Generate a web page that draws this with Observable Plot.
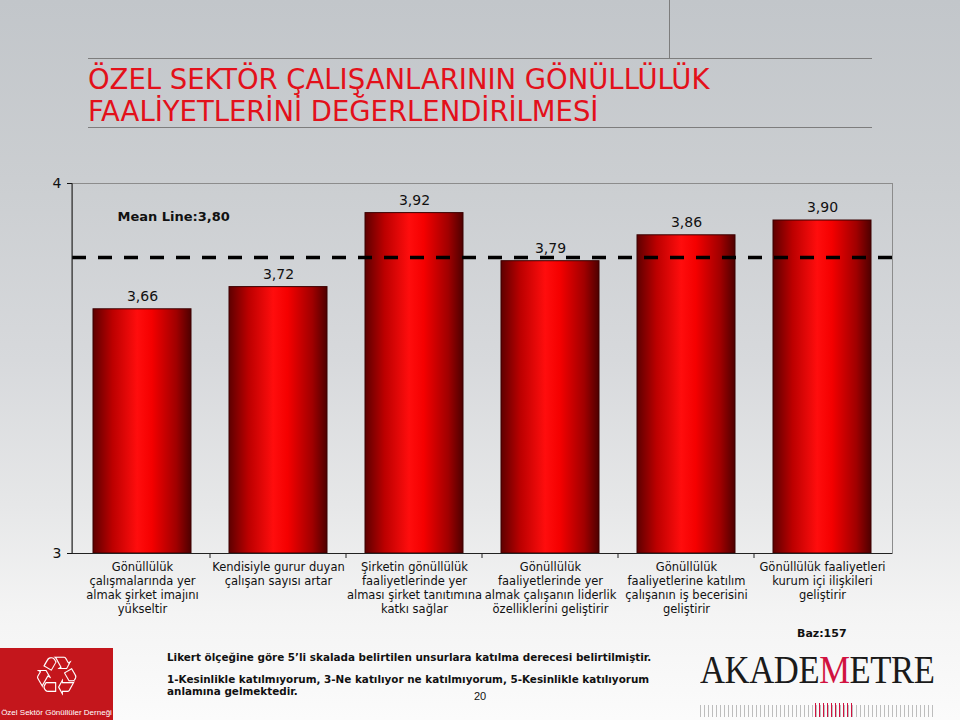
<!DOCTYPE html>
<html><head><meta charset="utf-8">
<script src="https://cdn.jsdelivr.net/npm/d3@7"></script>
<script src="https://cdn.jsdelivr.net/npm/@observablehq/plot@0.6"></script>
<style>
html,body{margin:0;padding:0;}
body{width:960px;height:720px;overflow:hidden;position:relative;font-family:"DejaVu Sans",Verdana,sans-serif;
background:linear-gradient(to bottom,#c2c6ca 0%,#cbced1 25%,#d7d9dc 50%,#e6e7e8 70%,#f4f4f4 85%,#fbfbfb 100%);}
.abs{position:absolute;}
#title{left:88px;top:64px;color:#e3101a;font-family:"DejaVu Sans Condensed","DejaVu Sans",sans-serif;font-size:28px;line-height:32px;white-space:nowrap;transform:scaleX(1.09);transform-origin:left top;}
.hline{height:0;border-top:1.5px solid #7d7d7d;left:88px;width:784px;}
#vline{left:669px;top:0;height:58px;border-left:1px solid #7d7d7d;}
#chart{left:0;top:140px;}
#note{left:167px;top:651px;font-family:"DejaVu Sans Condensed","DejaVu Sans",sans-serif;font-weight:bold;font-size:10.5px;color:#111;line-height:12.5px;white-space:nowrap;transform:scaleX(1.1);transform-origin:left top;}
#page{left:474px;top:690px;font-family:"Liberation Sans Narrow","Liberation Sans",sans-serif;font-size:11px;color:#111;}
#baz{left:797px;top:627px;font-weight:bold;font-size:11px;color:#111;}
#logo{left:0;top:648px;width:113px;height:72px;background:#c4161c;}
#logo .icon{position:absolute;left:0;width:113px;top:1px;height:56px;text-align:center;font-size:54px;line-height:56px;color:#fff;}
#logo svg{position:absolute;left:0;top:0;overflow:visible;}
#akad{left:700px;top:645px;font-family:"Liberation Serif","DejaVu Serif",serif;font-size:41px;color:#1a1a1a;letter-spacing:-0.5px;transform:scaleX(0.845);transform-origin:left top;white-space:nowrap;line-height:48px;}
#akad span{color:#d1123f;}
#ruler{left:700px;top:705px;width:235px;height:12px;background:repeating-linear-gradient(to right,#bdbdbd 0 1px,transparent 1px 4px);}
#ruler2{left:815px;top:703px;width:40px;height:14px;background:repeating-linear-gradient(to right,#d1123f 0 1px,transparent 1px 4px);}
</style>
</head>
<body>
<div id="vline" class="abs"></div>
<div class="abs hline" style="top:58px"></div>
<div id="title" class="abs">ÖZEL SEKTÖR ÇALIŞANLARININ GÖNÜLLÜLÜK<br>FAALİYETLERİNİ DEĞERLENDİRİLMESİ</div>
<div class="abs hline" style="top:127px"></div>
<div id="chart" class="abs"></div>
<div id="baz" class="abs">Baz:157</div>
<div id="logo" class="abs"><div class="icon">♲</div><svg width="113" height="72"><text x="56.5" y="67" text-anchor="middle" fill="#fff" font-family="Liberation Sans, sans-serif" font-size="8">Özel Sektör Gönüllüler Derneği</text></svg></div>
<div id="note" class="abs">Likert ölçeğine göre 5’li skalada belirtilen unsurlara katılma derecesi belirtilmiştir.<div style="height:9px"></div>1-Kesinlikle katılmıyorum, 3-Ne katılıyor ne katılmıyorum, 5-Kesinlikle katılıyorum<br>anlamına gelmektedir.</div>
<div id="page" class="abs">20</div>
<div id="akad" class="abs">AKADE<span>M</span>ETRE</div>
<div id="ruler" class="abs"></div>
<div id="ruler2" class="abs"></div>
<script>
const categories = [
  "Gönüllülük\nçalışmalarında yer\nalmak şirket imajını\nyükseltir",
  "Kendisiyle gurur duyan\nçalışan sayısı artar",
  "Şirketin gönüllülük\nfaaliyetlerinde yer\nalması şirket tanıtımına\nkatkı sağlar",
  "Gönüllülük\nfaaliyetlerinde yer\nalmak çalışanın liderlik\nözelliklerini geliştirir",
  "Gönüllülük\nfaaliyetlerine katılım\nçalışanın iş becerisini\ngeliştirir",
  "Gönüllülük faaliyetleri\nkurum içi ilişkileri\ngeliştirir"
];
const values = [3.66, 3.72, 3.92, 3.79, 3.86, 3.90];
const meanValue = 3.80;
const yTicks = [3, 4];
const meanLabel = "Mean Line:";

const data = categories.map((c, i) => ({cat: c, value: values[i]}));
const fmt = v => v.toFixed(2).replace(".", ",");

const plot = Plot.plot({
  width: 960, height: 500,
  marginLeft: 72, marginRight: 68, marginTop: 43, marginBottom: 87,
  style: {background: "transparent", fontFamily: "DejaVu Sans, Verdana, sans-serif", color: "#111", overflow: "visible"},
  x: {domain: categories, paddingInner: 0.283, paddingOuter: 0.1415, label: null},
  y: {domain: [yTicks[0], yTicks[yTicks.length - 1]], label: null},
  marks: [
    Plot.frame({stroke: "#8c8c8c"}),
    Plot.barY(data, {x: "cat", y1: () => yTicks[0], y2: "value", fill: "url(#barGrad)", stroke: "#3b0000", strokeWidth: 1}),
    Plot.ruleY([meanValue], {stroke: "#000", strokeWidth: 3.5, strokeDasharray: "14,12"}),
    Plot.ruleY([yTicks[0]], {stroke: "#222"}),
    Plot.text(data, {x: "cat", y: "value", text: d => fmt(d.value), dy: -13, fontSize: 14, fill: "#111"}),
    Plot.text([meanValue], {frameAnchor: "top-left", dx: 45, dy: 33, lineAnchor: "middle", text: d => meanLabel + fmt(d), fontWeight: "bold", fontSize: 13, fill: "#111"}),
    Plot.axisY({ticks: yTicks, tickFormat: d => String(d), tickSize: 5, tickPadding: 6, fontSize: 14, label: null}),
    Plot.axisX({tickSize: 0, tickPadding: 8, fontSize: 11.5, lineHeight: 1.2, label: null})
  ]
});

const svg = d3.select(plot);
const defs = svg.insert("defs", ":first-child");
const grad = defs.append("linearGradient").attr("id", "barGrad").attr("x1", 0).attr("x2", 1).attr("y1", 0).attr("y2", 0);
[[0, "#5e0000"], [0.2, "#bc0000"], [0.45, "#ff0d0d"], [0.6, "#f50000"], [0.85, "#a00000"], [1, "#4e0000"]]
  .forEach(([o, c]) => grad.append("stop").attr("offset", o).attr("stop-color", c));

const xs = plot.scale("x"), ys = plot.scale("y");
const y0 = ys.apply(yTicks[0]), y1 = ys.apply(yTicks[yTicks.length - 1]);
const g = svg.append("g").attr("stroke", "#222");
g.append("line").attr("x1", xs.range[0]).attr("x2", xs.range[0]).attr("y1", y1).attr("y2", y0 + 0.5);
categories.slice(0, -1).forEach(c => {
  const bx = xs.apply(c) + xs.bandwidth + (xs.step - xs.bandwidth) / 2;
  g.append("line").attr("x1", bx).attr("x2", bx).attr("y1", y0).attr("y2", y0 + 5);
});
document.getElementById("chart").appendChild(plot);
</script>
</body></html>
